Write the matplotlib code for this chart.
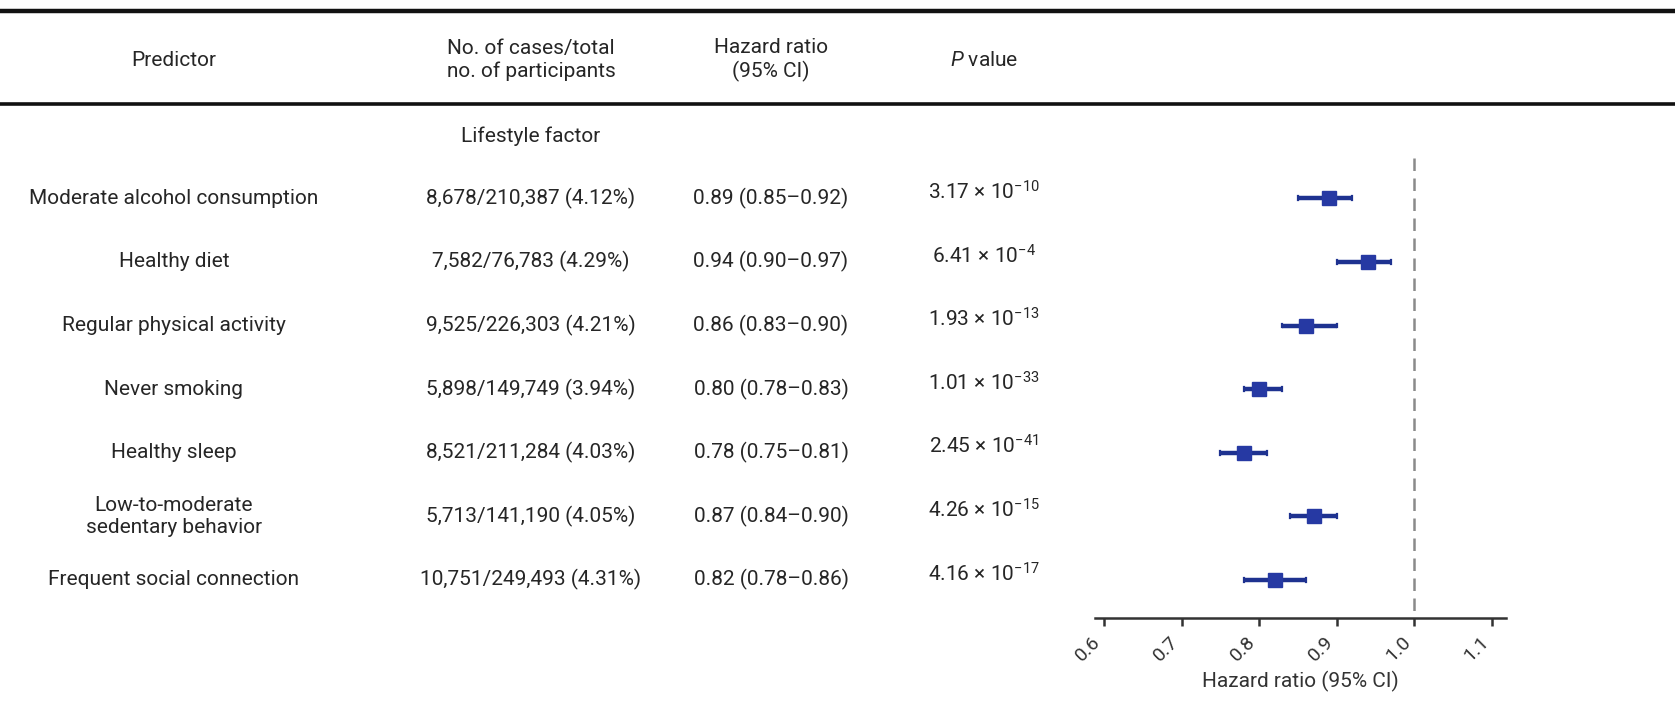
import matplotlib
matplotlib.use("Agg")
import matplotlib.pyplot as plt
from matplotlib.transforms import blended_transform_factory

plt.rcParams['font.family'] = ['Roboto', 'DejaVu Sans']
plt.rcParams['mathtext.fontset'] = 'custom'
plt.rcParams['mathtext.rm'] = 'Roboto'
plt.rcParams['mathtext.it'] = 'Roboto:italic'

# ---- data -------------------------------------------------------------
predictors = [
    "Moderate alcohol consumption",
    "Healthy diet",
    "Regular physical activity",
    "Never smoking",
    "Healthy sleep",
    "Low-to-moderate\nsedentary behavior",
    "Frequent social connection",
]
cases_text = [
    "8,678/210,387 (4.12%)",
    "7,582/76,783 (4.29%)",
    "9,525/226,303 (4.21%)",
    "5,898/149,749 (3.94%)",
    "8,521/211,284 (4.03%)",
    "5,713/141,190 (4.05%)",
    "10,751/249,493 (4.31%)",
]
hr = [0.89, 0.94, 0.86, 0.80, 0.78, 0.87, 0.82]
ci_low = [0.85, 0.90, 0.83, 0.78, 0.75, 0.84, 0.78]
ci_high = [0.92, 0.97, 0.90, 0.83, 0.81, 0.90, 0.86]
p_mantissa = ["3.17", "6.41", "1.93", "1.01", "2.45", "4.26", "4.16"]
p_exponent = ["-10", "-4", "-13", "-33", "-41", "-15", "-17"]
xticks = [0.6, 0.7, 0.8, 0.9, 1.0, 1.1]
xtick_labels = ["0.6", "0.7", "0.8", "0.9", "1.0", "1.1"]

# ---- figure -------------------------------------------------------------
W, H = 1675, 703
fig = plt.figure(figsize=(W / 100, H / 100), dpi=100)
fig.patch.set_facecolor("white")

# page axes in pixel units for the table part
page = fig.add_axes([0, 0, 1, 1])
page.set_xlim(0, W)
page.set_ylim(H, 0)
page.axis("off")

# forest plot axes
fx0, fx1, fy0, fy1 = 1095, 1506, 150, 618
fax = fig.add_axes([fx0 / W, 1 - fy1 / H, (fx1 - fx0) / W, (fy1 - fy0) / H])
fax.set_facecolor("none")

n = len(predictors)
rows = list(range(n))
fax.set_xlim(0.5884, 1.118)
fax.set_ylim(6.6, -0.76)

blue_line = "#1e3290"
blue_box = "#2639a3"
for i in rows:
    fax.plot([ci_low[i], ci_high[i]], [i, i], color=blue_line, lw=3.2,
             solid_capstyle="butt", zorder=3)
    for xe in (ci_low[i], ci_high[i]):
        fax.plot([xe, xe], [i - 0.03, i + 0.03], color=blue_line, lw=1.6, zorder=3)
    fax.plot(hr[i], i, marker="s", ms=10, color=blue_box, zorder=4)

fax.plot([1.0, 1.0], [-0.64, 6.6], color="#8a8a8a", lw=1.8,
         linestyle=(0, (5, 3)), zorder=1)

for s in ("left", "top", "right"):
    fax.spines[s].set_visible(False)
fax.spines["bottom"].set_color("#333333")
fax.spines["bottom"].set_linewidth(1.8)
fax.set_yticks([])
fax.set_xticks(xticks)
fax.set_xticklabels(xtick_labels, rotation=45, ha="right", fontsize=14,
                    color="#333333")
fax.tick_params(axis="x", length=6, width=1.8, color="#333333", pad=5)
fax.set_xlabel("Hazard ratio (95% CI)", fontsize=15, color="#333333", labelpad=4)

# ---- table text ---------------------------------------------------------
txt = "#262626"
fs = 15
trans = blended_transform_factory(page.transData, fax.transData)

col_pred, col_cases, col_hr, col_p = 174, 531, 771, 984

page.plot([0, W], [11, 11], color="#111111", lw=3.2, solid_capstyle="butt")
page.plot([0, W], [104, 104], color="#111111", lw=2.6, solid_capstyle="butt")

page.text(col_pred, 60, "Predictor", ha="center", va="center", fontsize=fs, color=txt)
page.text(col_cases, 60, "No. of cases/total\nno. of participants", ha="center",
          va="center", fontsize=fs, color=txt, linespacing=1.2)
page.text(col_hr, 60, "Hazard ratio\n(95% CI)", ha="center", va="center",
          fontsize=fs, color=txt, linespacing=1.2)
page.text(col_p, 60, r"$\mathit{P}$ value", ha="center", va="center",
          fontsize=fs, color=txt)
page.text(col_cases, 136, "Lifestyle factor", ha="center", va="center",
          fontsize=fs, color=txt)

for i in rows:
    page.text(col_pred, i, predictors[i], transform=trans, ha="center",
              va="center", fontsize=fs, color=txt, linespacing=1.2)
    page.text(col_cases, i, cases_text[i], transform=trans, ha="center",
              va="center", fontsize=fs, color=txt)
    page.text(col_hr, i, f"{hr[i]:.2f} ({ci_low[i]:.2f}\u2013{ci_high[i]:.2f})",
              transform=trans, ha="center", va="center", fontsize=fs, color=txt)
    page.text(col_p, i - 0.1,
              p_mantissa[i] + " \u00d7 10$^{\\mathregular{" + p_exponent[i].replace("-", "\u2212") + "}}$",
              transform=trans, ha="center", va="center", fontsize=fs, color=txt)

fig.savefig("out.png", dpi=100, facecolor="white")
